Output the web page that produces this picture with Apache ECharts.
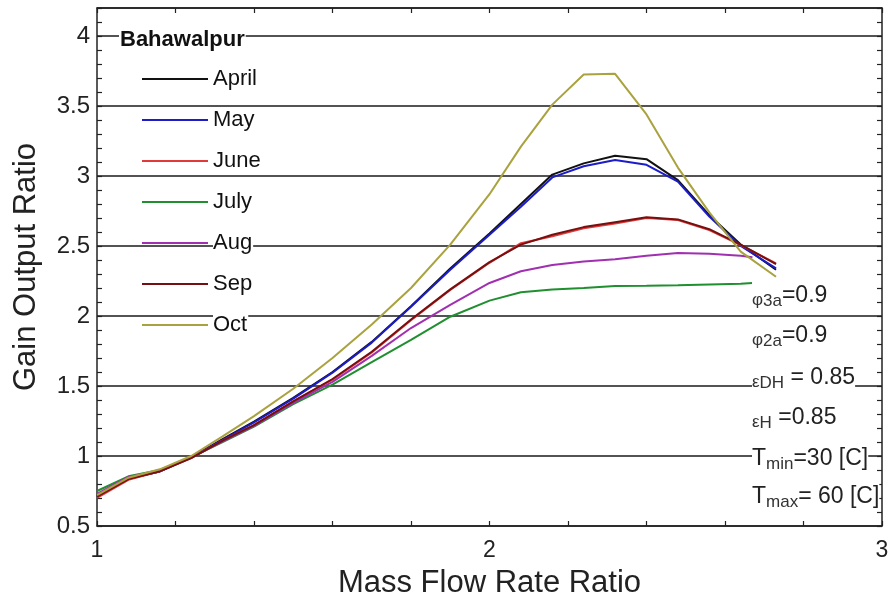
<!DOCTYPE html>
<html>
<head>
<meta charset="utf-8">
<script src="https://cdn.jsdelivr.net/npm/echarts@6/dist/echarts.min.js"></script>
<style>
  html, body { margin: 0; padding: 0; background: #fff; }
  #chart { width: 896px; height: 604px; }
</style>
</head>
<body>
<div id="chart"></div>
<script>
// Mass flow rate ratio (x) shared by the monthly curves
const massFlow = [1.00, 1.08, 1.16, 1.24, 1.32, 1.40, 1.50, 1.60, 1.70, 1.80, 1.90,
                  2.00, 2.08, 2.16, 2.24, 2.32, 2.40, 2.48, 2.56, 2.64, 2.73];
// July and August stop a little earlier
const massFlowShort = [1.00, 1.08, 1.16, 1.24, 1.32, 1.40, 1.50, 1.60, 1.70, 1.80, 1.90,
                       2.00, 2.08, 2.16, 2.24, 2.32, 2.40, 2.48, 2.56, 2.64, 2.67];

// Gain output ratio per month (Bahawalpur)
const gorApril = [0.72, 0.84, 0.89, 0.99, 1.12, 1.245, 1.415, 1.60, 1.815, 2.07, 2.34,
                  2.59, 2.80, 3.01, 3.09, 3.145, 3.12, 2.97, 2.72, 2.51, 2.33];
const gorMay   = [0.71, 0.84, 0.89, 0.99, 1.115, 1.24, 1.41, 1.595, 1.81, 2.066, 2.33,
                  2.58, 2.78, 2.99, 3.07, 3.114, 3.08, 2.96, 2.71, 2.50, 2.34];
const gorJune  = [0.70, 0.83, 0.89, 0.985, 1.11, 1.22, 1.39, 1.545, 1.74, 1.97, 2.186,
                  2.38, 2.52, 2.57, 2.626, 2.66, 2.70, 2.686, 2.614, 2.507, 2.376];
const gorJuly  = [0.75, 0.855, 0.90, 0.99, 1.10, 1.21, 1.37, 1.51, 1.67, 1.83, 1.995,
                  2.11, 2.17, 2.19, 2.20, 2.214, 2.216, 2.22, 2.225, 2.23, 2.236];
const gorAug   = [0.73, 0.85, 0.895, 0.99, 1.105, 1.215, 1.38, 1.53, 1.715, 1.914, 2.08,
                  2.236, 2.32, 2.364, 2.39, 2.405, 2.43, 2.45, 2.445, 2.43, 2.42];
const gorSep   = [0.71, 0.835, 0.89, 0.985, 1.11, 1.22, 1.39, 1.55, 1.745, 1.975, 2.19,
                  2.385, 2.51, 2.58, 2.635, 2.67, 2.705, 2.69, 2.62, 2.51, 2.37];
const gorOct   = [0.72, 0.845, 0.905, 1.00, 1.14, 1.285, 1.48, 1.70, 1.94, 2.20, 2.51,
                  2.87, 3.21, 3.51, 3.725, 3.73, 3.44, 3.06, 2.74, 2.46, 2.28];

const monthNames = ['April', 'May', 'June', 'July', 'Aug', 'Sep', 'Oct'];
const monthX = [massFlow, massFlow, massFlow, massFlowShort, massFlowShort, massFlow, massFlow];
const monthY = [gorApril, gorMay, gorJune, gorJuly, gorAug, gorSep, gorOct];
const monthColors = ['#111111', '#1c1cc8', '#e03a3a', '#1f8f2f', '#a030b0', '#761010', '#aaa23e'];

const xTickLabels = ['1', '2', '3'];
const yTickLabels = ['0.5', '1', '1.5', '2', '2.5', '3', '3.5', '4'];

const FONT = 'Liberation Sans, Arial, sans-serif';

const chart = echarts.init(document.getElementById('chart'), null, { renderer: 'canvas' });

const series = monthNames.map((name, i) => ({
  name: name,
  type: 'line',
  xAxisIndex: 0,
  yAxisIndex: 0,
  symbol: 'none',
  smooth: false,
  lineStyle: { color: monthColors[i], width: 2 },
  itemStyle: { color: monthColors[i] },
  data: monthX[i].map((x, k) => [x, monthY[i][k]])
}));

function isLabelled(v, list) {
  return list.some(s => Math.abs(parseFloat(s) - v) < 1e-6);
}

const tickStyle = { show: true, inside: true, length: 5, lineStyle: { color: '#222', width: 1.2 } };
const axisLineStyle = { show: true, lineStyle: { color: '#222', width: 1.5 } };

const option = {
  backgroundColor: '#fff',
  animation: false,
  grid: { left: 97, right: 14, top: 8, bottom: 78, containLabel: false, outerBoundsMode: 'none' },
  legend: {
    data: monthNames,
    orient: 'vertical',
    left: 137,
    top: 62,
    itemWidth: 66,
    itemHeight: 24,
    itemGap: 17,
    icon: 'path://M0,11 L66,11 L66,13 L0,13 Z',
    textStyle: {
      fontFamily: FONT, fontSize: 22, color: '#111',
      lineHeight: 24, backgroundColor: '#fff', padding: [0, 1, 0, 0]
    },
    selectedMode: false
  },
  xAxis: [
    {
      type: 'value', position: 'bottom', min: 1, max: 3, interval: 0.2,
      axisLine: axisLineStyle,
      axisTick: tickStyle,
      splitLine: { show: false },
      axisLabel: {
        fontFamily: FONT, fontSize: 23, color: '#222', margin: 13,
        formatter: v => isLabelled(v, xTickLabels) ? String(Math.round(v)) : ''
      },
      name: 'Mass Flow Rate Ratio',
      nameLocation: 'middle',
      nameGap: 42,
      nameTextStyle: { fontFamily: FONT, fontSize: 31, color: '#222' }
    },
    {
      type: 'value', position: 'top', min: 1, max: 3, interval: 0.2,
      axisLine: axisLineStyle, axisTick: tickStyle,
      axisLabel: { show: false }, splitLine: { show: false }
    }
  ],
  yAxis: [
    {
      // labelled axis with major grid lines
      type: 'value', position: 'left', min: 0.5, max: 4.2, interval: 0.5,
      axisLine: axisLineStyle,
      axisTick: { show: false },
      splitLine: { show: true, lineStyle: { color: '#1a1a1a', width: 1.5 } },
      axisLabel: {
        fontFamily: FONT, fontSize: 24, color: '#222', margin: 7,
        showMaxLabel: false,
        formatter: v => isLabelled(v, yTickLabels) ? String(parseFloat(v.toFixed(2))) : ''
      },
      name: 'Gain Output Ratio',
      nameLocation: 'middle',
      nameGap: 55,
      nameTextStyle: { fontFamily: FONT, fontSize: 31, color: '#222' }
    },
    {
      // minor ticks on the left edge
      type: 'value', position: 'left', min: 0.5, max: 4.2, interval: 0.1,
      axisLine: { show: false }, axisTick: tickStyle,
      axisLabel: { show: false }, splitLine: { show: false }
    },
    {
      // right edge with inward ticks
      type: 'value', position: 'right', min: 0.5, max: 4.2, interval: 0.1,
      axisLine: axisLineStyle, axisTick: tickStyle,
      axisLabel: { show: false }, splitLine: { show: false }
    }
  ],
  graphic: [
    {
      type: 'text', left: 119, top: 29, z: 100,
      style: {
        text: 'Bahawalpur', font: 'bold 22px ' + FONT, fill: '#111',
        backgroundColor: '#fff', padding: [0, 1, 0, 1]
      }
    },
    ...[
      { top: 282, text: '{g|\u03c6}{s|3a}{m|=0.9}' },
      { top: 322, text: '{g|\u03c6}{s|2a}{m|=0.9}' },
      { top: 364, text: '{g|\u03b5}{s|DH}{m| = 0.85}' },
      { top: 404, text: '{g|\u03b5}{s|H}{m| =0.85}' },
      { top: 445, text: '{m|T}{s|min}{m|=30 [C]}' },
      { top: 483, text: '{m|T}{s|max}{m|= 60 [C]}' }
    ].map(t => ({
      type: 'text', left: 752, top: t.top, z: 100,
      style: {
        text: t.text,
        backgroundColor: '#fff',
        fill: '#222',
        rich: {
          m: { fontFamily: FONT, fontSize: 23, lineHeight: 28, fill: '#222', color: '#222' },
          g: { fontFamily: FONT, fontSize: 17, lineHeight: 28, fill: '#333', color: '#333', verticalAlign: 'bottom', padding: [0, 0, 1, 0] },
          s: { fontFamily: FONT, fontSize: 17, lineHeight: 28, fill: '#333', color: '#333', verticalAlign: 'bottom' }
        }
      }
    }))
  ],
  series: series
};

chart.setOption(option);
</script>
</body>
</html>
